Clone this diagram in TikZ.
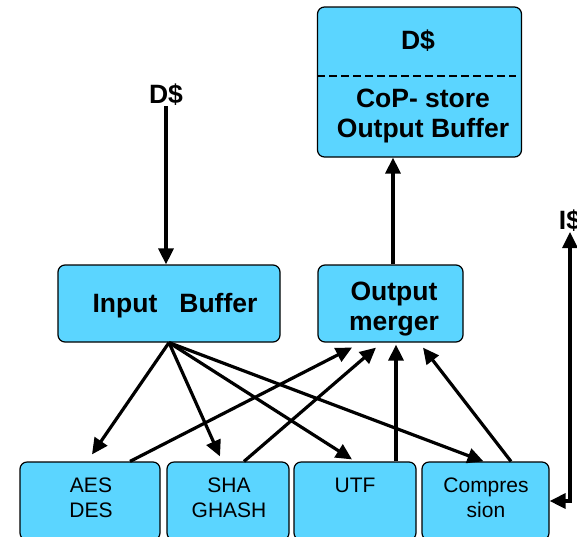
\documentclass[tikz,border=0pt]{standalone}
\usepackage{fontspec}
\setmainfont{Liberation Sans}
\usepackage{xcolor}
\usetikzlibrary{arrows.meta}

\definecolor{boxcyan}{RGB}{91,213,255}
\tikzset{
  unit/.style={draw,fill=boxcyan,rounded corners=7pt,line width=1.2pt,inner sep=0pt},
  big/.style={font=\fontsize{26.5}{30}\selectfont\bfseries,align=center,inner sep=0pt},
  small/.style={font=\fontsize{21}{25.5}\selectfont,align=center,inner sep=0pt},
  link/.style={line width=3.2pt,>={Triangle[length=16pt,width=15pt]}},
}

\begin{document}
\begin{tikzpicture}[x=1pt,y=-1pt]
\clip (0,0) rectangle (577,536);
% D$ store on top
\node[unit,minimum width=204pt,minimum height=150pt] (dstore) at (419.5,82) {};
\draw[line width=2.5pt,dash pattern=on 8pt off 4pt] (317,76) -- (516,76);
\node[big] (dtop) at (418,41) {D\$};
\node[big] (cop) at (423,116) {CoP- store\\Output Buffer};
% middle row
\node[unit,minimum width=222pt,minimum height=77pt] (inbuf) at (169,303.5) {};
\node[big] (inbuftext) at (175,306) {Input~~~Buffer};
\node[unit,minimum width=145pt,minimum height=77pt] (merger) at (390.5,303.5) {};
\node[big] (mergertext) at (394,309) {Output\\merger};
% engines
\node[unit,minimum width=140pt,minimum height=78pt] (aes) at (90,501) {};
\node[unit,minimum width=122pt,minimum height=78pt] (sha) at (228,501) {};
\node[unit,minimum width=122pt,minimum height=78pt] (utf) at (355,501) {};
\node[unit,minimum width=127pt,minimum height=78pt] (comp) at (485.5,501) {};
\node[small] (aestext) at (91,498) {AES\\DES};
\node[small] (shatext) at (229,498) {SHA\\GHASH};
\node[small] (utftext) at (355,485) {UTF};
\node[small] (comptext) at (486,498) {Compres\\sion};
% cache labels
\node[big,anchor=south] (dlab) at (166,106) {D\$};
\node[big,anchor=south] (ilab) at (570,232) {I\$};
% connectors
\draw[link,->] (dlab.south) -- (dlab.south |- inbuf.north);
\draw[link,->] ([xshift=2.5pt]merger.north) -- ([xshift=-26.5pt]dstore.south);
\draw[link,->] (inbuf.south) -- ([xshift=2pt,yshift=7pt]aes.north);
\draw[link,->] (inbuf.south) -- ([xshift=-8pt,yshift=5pt]sha.north);
\draw[link,->] (inbuf.south) -- ([xshift=-3pt,yshift=2pt]utf.north);
\draw[link,->] (inbuf.south) -- ([xshift=-2pt]comp.north);
\draw[link,->] ([xshift=40pt]aes.north) -- ([xshift=-38.5pt,yshift=-5pt]merger.south);
\draw[link,->] ([xshift=16pt]sha.north) -- ([xshift=-14.5pt,yshift=-5pt]merger.south);
\draw[link,->] ([xshift=41pt]utf.north) -- ([xshift=41pt,yshift=-2pt]utf.north |- merger.south);
\draw[link,->] ([xshift=25.5pt]comp.north) -- ([xshift=32.5pt,yshift=-5pt]merger.south);
\draw[link,<->] (ilab.south) |- (comp.east);
\end{tikzpicture}
\end{document}
